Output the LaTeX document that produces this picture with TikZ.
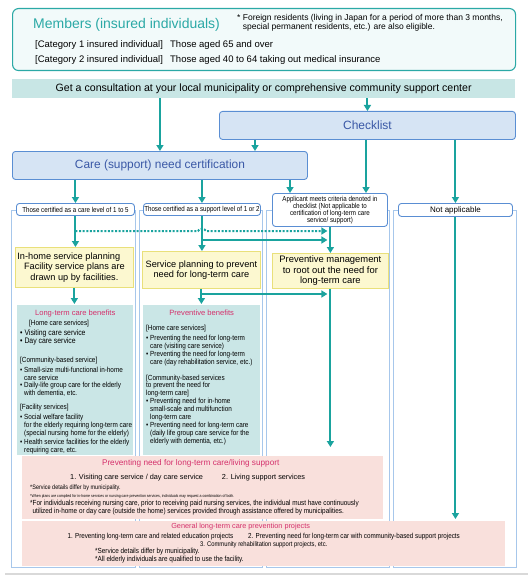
\documentclass[tikz,border=0pt]{standalone}
\usepackage{fontspec}
\setmainfont{Liberation Sans}
\newfontfamily\narrowfont[FakeStretch=0.86]{Liberation Sans}
\usetikzlibrary{arrows.meta,positioning}

\definecolor{flowteal}{HTML}{1AA39E}
\definecolor{memberteal}{HTML}{2BA9A6}
\definecolor{memberfill}{HTML}{F2FAFA}
\definecolor{consultfill}{HTML}{C8E6E5}
\definecolor{blueline}{HTML}{5A8ED3}
\definecolor{bluefill}{HTML}{D6E4F4}
\definecolor{bluetext}{HTML}{3A58A6}
\definecolor{frameblue}{HTML}{A7C7EB}
\definecolor{yellowline}{HTML}{E9E07A}
\definecolor{yellowfill}{HTML}{FCF8D0}
\definecolor{benefitfill}{HTML}{CAE6E6}
\definecolor{pinkfill}{HTML}{F9E0DC}
\definecolor{magentatext}{HTML}{D4306B}
\definecolor{greyline}{HTML}{D9D9D9}

\begin{document}
\begin{tikzpicture}[x=1pt,y=-1pt]
	\tikzset{box/.style={anchor=north west, inner sep=0pt, align=center},
	memberbox/.style={box, draw=memberteal, fill=memberfill, line width=1.1pt, rounded corners=6pt},
	bluebox/.style={box, draw=blueline, fill=bluefill, line width=0.9pt, rounded corners=3pt, text=bluetext},
	labelbox/.style={box, draw=blueline, fill=white, line width=0.9pt, rounded corners=3pt, font=\narrowfont\fontsize{7.2}{7.2}\selectfont},
	colframe/.style={draw=frameblue, line width=0.8pt},
	planbox/.style={box, draw=yellowline, fill=yellowfill, line width=0.8pt, font=\fontsize{9.2}{10.4}\selectfont},
	benefitbox/.style={box, fill=benefitfill},
	pinkbox/.style={box, fill=pinkfill},
	heading/.style={text=magentatext, font=\fontsize{7.6}{9}\selectfont, inner sep=0pt},
	listtext/.style={anchor=north west, align=left, inner sep=0pt, font=\narrowfont\fontsize{7.4}{7.9}\selectfont},
	flow/.style={draw=flowteal, line width=2pt, -{Triangle[length=6pt,width=7pt]}},
	dotflow/.style={flow, dash pattern=on 2pt off 1.6pt}};

	\useasboundingbox (0,0) rectangle (528,583);

	% members and consultation
	\node[memberbox, minimum width=503pt, minimum height=62pt] (members) at (12,8) {};
	\node[anchor=west, inner sep=0pt, text=memberteal, font=\fontsize{14}{16}\selectfont] (membertitle) at (33,25) {Members (insured individuals)};
	\node[anchor=north west, align=left, inner sep=0pt, font=\fontsize{8.5}{9.6}\selectfont] (foreign) at (237,14)
		{* Foreign residents (living in Japan for a period of more than 3 months,\\ \phantom{* }special permanent residents, etc.) are also eligible.};
	\node[anchor=west, inner sep=0pt, font=\fontsize{9.5}{11}\selectfont] (cat1) at (35,45)
		{\makebox[135pt][l]{[Category 1 insured individual]}Those aged 65 and over};
	\node[anchor=west, inner sep=0pt, font=\fontsize{9.5}{11}\selectfont] (cat2) at (35,60)
		{\makebox[135pt][l]{[Category 2 insured individual]}Those aged 40 to 64 taking out medical insurance};
	\node[box, fill=consultfill, minimum width=503pt, minimum height=19pt, font=\fontsize{10.6}{12}\selectfont] (consult) at (12,79)
		{Get a consultation at your local municipality or comprehensive community support center};

	\node[bluebox, minimum width=296pt, minimum height=28pt, font=\fontsize{12}{14}\selectfont] (checklist) at (219,111) {Checklist};
	\node[bluebox, minimum width=295pt, minimum height=28pt, font=\fontsize{11.9}{14}\selectfont] (certify) at (12,151) {Care (support) need certification};

	% columns
	\foreach \l/\r in {11/135, 139/262, 266/389, 393/516}
		\draw[colframe] (\l,210) rectangle (\r,567);

	\node[labelbox, minimum width=118pt, minimum height=12pt] (care) at (16,203) {Those certified as a care level of 1 to 5};
	\node[labelbox, minimum width=117pt, minimum height=12pt] (support) at (143,203) {Those certified as a support level of 1 or 2};
	\node[labelbox, minimum width=115pt, minimum height=33pt] (applicant) at (272,193)
		{Applicant meets criteria denoted in\\ checklist (Not applicable to\\ certification of long-term care\\ service/ support)};
	\node[labelbox, minimum width=114pt, minimum height=13pt, font=\fontsize{8}{9}\selectfont] (notapp) at (398,203) {Not applicable};

	\node[planbox, minimum width=118pt, minimum height=40pt] (plan1) at (15,247)
		{\makebox[114pt][l]{In-home service planning}\\ Facility service plans are\\ drawn up by facilities.};
	\node[planbox, minimum width=118pt, minimum height=37pt] (plan2) at (142,251)
		{Service planning to prevent\\ need for long-term care};
	\node[planbox, minimum width=116pt, minimum height=35pt, font=\fontsize{9.4}{10.4}\selectfont] (plan3) at (272,253)
		{Preventive management\\ to root out the need for\\ long-term care};

	% benefits
	\node[benefitbox, minimum width=116pt, minimum height=150pt] (benefit1) at (17,305) {};
	\node[heading, below=5pt of benefit1.north] (b1title) {Long-term care benefits};
	\node[listtext] (b1list) at ([xshift=3pt,yshift=-15pt]benefit1.north west)
		{\hspace{9pt}[Home care services]\\[2pt]
		{\fontsize{8}{8}\selectfont • Visiting care service}\\
		{\fontsize{8}{8}\selectfont • Day care service}\\[11pt]
		[Community-based service]\\[2pt]
		• Small-size multi-functional in-home\\
		\phantom{• }care service\\
		• Daily-life group care for the elderly\\
		\phantom{• }with dementia, etc.\\[6pt]
		[Facility services]\\[2pt]
		• Social welfare facility\\
		\phantom{• }for the elderly requiring long-term care\\
		\phantom{• }(special nursing home for the elderly)\\[1pt]
		• Health service facilities for the elderly\\
		\phantom{• }requiring care, etc.};

	\node[benefitbox, minimum width=117pt, minimum height=150pt] (benefit2) at (143,305) {};
	\node[heading, below=5pt of benefit2.north] (b2title) {Preventive benefits};
	\node[listtext] (b2list) at ([xshift=3pt,yshift=-20pt]benefit2.north west)
		{[Home care services]\\[2pt]
		• Preventing the need for long-term\\
		\phantom{• }care (visiting care service)\\
		• Preventing the need for long-term\\
		\phantom{• }care (day rehabilitation service, etc.)\\[8pt]
		[Community-based services\\
		to prevent the need for\\
		long-term care]\\
		• Preventing need for in-home\\
		\phantom{• }small-scale and multifunction\\
		\phantom{• }long-term care\\
		• Preventing need for long-term care\\
		\phantom{• }(daily life group care service for the\\
		\phantom{• }elderly with dementia, etc.)};

	% prevention projects
	\node[pinkbox, minimum width=361pt, minimum height=63pt] (prevent) at (22,456) {};
	\node[heading, anchor=north, font=\fontsize{8.2}{9}\selectfont] (ptitle) at ([xshift=-12pt,yshift=-3pt]prevent.north) {Preventing need for long-term care/living support};
	\node[anchor=base west, inner sep=0pt, font=\fontsize{7.3}{9}\selectfont] (pitems) at (70,479)
		{1. Visiting care service / day care service\hspace{19pt}2. Living support services};
	\node[listtext, font=\narrowfont\fontsize{6.4}{8}\selectfont] (pnotes) at (30,485)
		{*Service details differ by municipality.\\
		{\fontsize{4.1}{8}\selectfont *When plans are compiled for in-home services or nursing care prevention services, individuals may request a combination of both.}\\
		{\fontsize{7.4}{8}\selectfont *For individuals receiving nursing care, prior to receiving paid nursing services, the individual must have continuously}\\[-0.5pt]
		{\fontsize{7.4}{8}\selectfont \phantom{*}utilized in-home or day care (outside the home) services provided through assistance offered by municipalities.}};

	\node[pinkbox, minimum width=483pt, minimum height=45pt] (general) at (22,521) {};
	\node[heading, anchor=north, font=\fontsize{7.3}{9}\selectfont] (gtitle) at ([xshift=-23pt,yshift=-2pt]general.north) {General long-term care prevention projects};
	\node[anchor=north, align=center, inner sep=0pt, font=\narrowfont\fontsize{7.3}{8}\selectfont] (gitems) at ([yshift=-12pt]general.north)
		{1. Preventing long-term care and related education projects\hspace{15pt}2. Preventing need for long-term car with community-based support projects\\
		{\fontsize{6.8}{8}\selectfont 3. Community rehabilitation support projects, etc.}};
	\node[listtext, font=\narrowfont\fontsize{7.4}{7.5}\selectfont] (gnotes) at (95,548)
		{*Service details differ by municipality.\\ *All elderly individuals are qualified to use the facility.};

	\draw[greyline, line width=2.5pt] (5,574) -- (528,574);

	% connectors
	\coordinate (chkleft) at (255,0);
	\coordinate (chkmid) at (366,0);
	\coordinate (certright) at (290,0);
	\coordinate (dotrow) at (0,231);
	\coordinate (branchrow) at (0,240);
	\coordinate (lowrow) at (0,294);

	\draw[flow] (consult.south -| certify) to (certify.north);
	\draw[flow] (consult.south -| checklist) to (checklist.north);
	\draw[flow] (checklist.south -| chkleft) to (certify.north -| chkleft);
	\draw[flow] (checklist.south -| chkmid) to (applicant.north -| chkmid);
	\draw[flow] (checklist.south -| notapp) to (notapp.north);
	\draw[flow] (certify.south -| care) to (care.north);
	\draw[flow] (certify.south -| support) to (support.north);
	\draw[flow] (certify.south -| certright) to (applicant.north -| certright);

	\draw[flow] (care.south) to (care.south |- plan1.north);
	\draw[flow] (support.south) to (support.south |- plan2.north);
	\draw[flow] (applicant.south -| plan3) to (plan3.north);
	\draw[dotflow] (care.south |- dotrow) -- ([xshift=-4pt]support.south |- dotrow)
		to[out=70, in=110] ([xshift=4pt]support.south |- dotrow) -- ([xshift=-3pt]plan3.north |- dotrow);
	\draw[flow] (support.south |- branchrow) to ([xshift=-3pt]plan3.north |- branchrow);

	\draw[flow, shorten >=1pt] (plan1.south) to (plan1.south |- benefit1.north);
	\draw[flow, shorten >=1pt] (plan2.south) to (plan2.south |- benefit2.north);
	\draw[flow] (plan2.south |- lowrow) to ([xshift=-3pt]plan3.south |- lowrow);
	\draw[flow, shorten >=9pt] (plan3.south) to (plan3.south |- prevent.north);
	\draw[flow, shorten >=2pt] (notapp.south) to (notapp.south |- general.north);
\end{tikzpicture}
\end{document}
